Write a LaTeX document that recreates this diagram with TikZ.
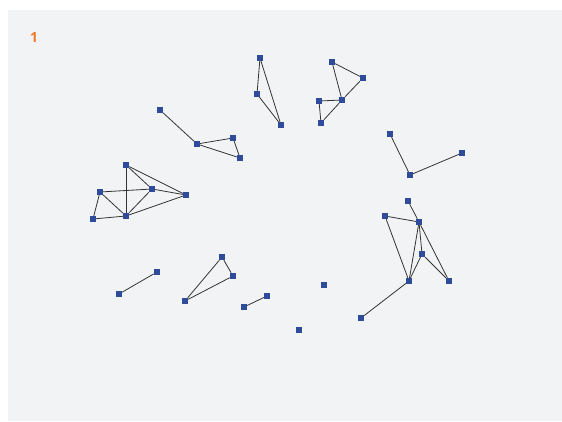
\documentclass[tikz,border=0pt]{standalone}
\usepackage{fontspec}
\setsansfont{Open Sans}
\usepackage{xcolor}
\usetikzlibrary{positioning, backgrounds}
\definecolor{canvas}{HTML}{F2F3F5}
\definecolor{vertexblue}{HTML}{2E4C99}
\definecolor{edgegray}{HTML}{333333}
\definecolor{tagorange}{HTML}{F07A2A}

\begin{document}
\begin{tikzpicture}[
  x=1pt, y=-1pt,
  vtx/.style={rectangle, fill=vertexblue, minimum size=6pt, inner sep=0pt},
  edge/.style={color=edgegray, line width=0.8pt},
  tag/.style={font=\sffamily\bfseries\fontsize{14}{14}\selectfont, text=tagorange}
]
\useasboundingbox (0,0) rectangle (562,421);
\fill[canvas] (8,10) rectangle (562,421);
% Label
\node[tag] (num) at (34,37) {1};
% Left cluster
\node[vtx] (l1) at (126,165) {};
\node[vtx] (l2) at (100,192) {};
\node[vtx] (l3) at (152,189) {};
\node[vtx] (l4) at (186,195) {};
\node[vtx] (l5) at (93,219) {};
\node[vtx] (l6) at (126,216) {};
% Upper left chain
\node[vtx] (u1) at (160,110) {};
\node[vtx] (u2) at (197,144) {};
\node[vtx] (u3) at (233,138) {};
\node[vtx] (u4) at (240,158) {};
% Top triangle
\node[vtx] (t1) at (260,58) {};
\node[vtx] (t2) at (257,94) {};
\node[vtx] (t3) at (281,125) {};
% Top right pair of triangles
\node[vtx] (r1) at (332,62) {};
\node[vtx] (r2) at (363,78) {};
\node[vtx] (r3) at (342,100) {};
\node[vtx] (r4) at (319,101) {};
\node[vtx] (r5) at (321,123) {};
% Right path
\node[vtx] (p1) at (390,134) {};
\node[vtx] (p2) at (410,175) {};
\node[vtx] (p3) at (462,153) {};
% Lower right cluster
\node[vtx] (k1) at (408,201) {};
\node[vtx] (k2) at (385,216) {};
\node[vtx] (k3) at (419,222) {};
\node[vtx] (k4) at (422,254) {};
\node[vtx] (k5) at (409,281) {};
\node[vtx] (k6) at (449,281) {};
\node[vtx] (k7) at (361,318) {};
% Bottom row
\node[vtx] (b1) at (119,294) {};
\node[vtx] (b2) at (157,272) {};
\node[vtx] (b3) at (222,257) {};
\node[vtx] (b4) at (233,276) {};
\node[vtx] (b5) at (185,301) {};
\node[vtx] (b6) at (267,296) {};
\node[vtx] (b7) at (244,307) {};
% Isolated vertices
\node[vtx] (s1) at (324,285) {};
\node[vtx] (s2) at (299,330) {};
% Edges
\draw[edge] (l1) -- (l6);
\draw[edge] (l1) -- (l3);
\draw[edge] (l1) -- (l4);
\draw[edge] (l2) -- (l3);
\draw[edge] (l2) -- (l6);
\draw[edge] (l2) -- (l5);
\draw[edge] (l5) -- (l6);
\draw[edge] (l6) -- (l3);
\draw[edge] (l6) -- (l4);
\draw[edge] (l3) -- (l4);
\draw[edge] (u1) -- (u2);
\draw[edge] (u2) -- (u3);
\draw[edge] (u3) -- (u4);
\draw[edge] (u2) -- (u4);
\draw[edge] (t1) -- (t2);
\draw[edge] (t2) -- (t3);
\draw[edge] (t1) -- (t3);
\draw[edge] (r1) -- (r3);
\draw[edge] (r1) -- (r2);
\draw[edge] (r2) -- (r3);
\draw[edge] (r3) -- (r4);
\draw[edge] (r4) -- (r5);
\draw[edge] (r5) -- (r3);
\draw[edge] (p1) -- (p2);
\draw[edge] (p2) -- (p3);
\draw[edge] (k1) -- (k3);
\draw[edge] (k2) -- (k3);
\draw[edge] (k2) -- (k5);
\draw[edge] (k3) -- (k5);
\draw[edge] (k3) -- (k4);
\draw[edge] (k3) -- (k6);
\draw[edge] (k4) -- (k5);
\draw[edge] (k4) -- (k6);
\draw[edge] (k5) -- (k7);
\draw[edge] (b1) -- (b2);
\draw[edge] (b3) -- (b4);
\draw[edge] (b3) -- (b5);
\draw[edge] (b4) -- (b5);
\draw[edge] (b6) -- (b7);
\end{tikzpicture}
\end{document}
